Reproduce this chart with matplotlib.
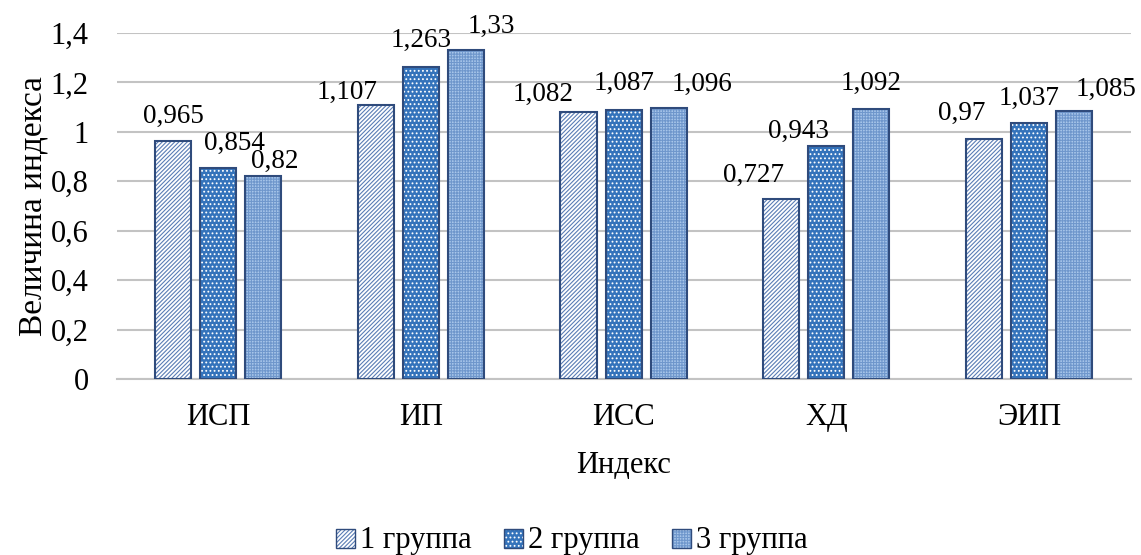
import matplotlib.pyplot as plt
import numpy as np
from matplotlib.legend_handler import HandlerBase

# Index values by group
categories = ['ИСП', 'ИП', 'ИСС', 'ХД', 'ЭИП']
group1 = [0.965, 1.107, 1.082, 0.727, 0.97]
group2 = [0.854, 1.263, 1.087, 0.943, 1.037]
group3 = [0.82, 1.33, 1.096, 1.092, 1.085]
series_names = ['1 группа', '2 группа', '3 группа']

# label nudges in pixels (horizontal shift, height of baseline above the bar)
label_dx = [[0, -29, -35, -28, -22],
            [16, 0, 0, -28, 0],
            [12, 26, 33, 0, 32]]
label_gap = [[18, 7, 11, 17, 19],
             [18, 20, 20, 8, 18],
             [8, 17, 17, 19, 15]]

plt.rcParams['font.family'] = ['Liberation Serif', 'DejaVu Serif']
plt.rcParams['hatch.linewidth'] = 0.8

fig = plt.figure(figsize=(11.41, 5.55), dpi=100)
ax = fig.add_axes([0.1022, 0.3171, 0.8886, 0.6234])

x = np.arange(len(categories))
width = 0.178
step = 0.222
edge = '#2f4b7c'

# face colour, hatch colour, hatch pattern per group
styles = [
    ('white', '#5a7db5', '////////'),
    ('#3473bb', 'white', '....'),
    ('#a8c6ea', '#6f97cc', '++++++'),
]

px = 72 / fig.dpi
for i, vals in enumerate([group1, group2, group3]):
    face, hcol, hatch = styles[i]
    pos = x + (i - 1) * step
    # hatch takes the edge colour, so the outline is drawn as a second bar
    ax.bar(pos, vals, width, color=face, edgecolor=hcol, hatch=hatch, linewidth=0, zorder=2)
    ax.bar(pos, vals, width, fill=False, edgecolor=edge, linewidth=1.5, zorder=3)
    for j, (p, v) in enumerate(zip(pos, vals)):
        ax.annotate(str(v).replace('.', ','), xy=(p, v),
                    xytext=(label_dx[i][j] * px, label_gap[i][j] * px),
                    textcoords='offset points', ha='center', va='baseline', fontsize=19.5)

yt = np.arange(0, 1.41, 0.2)
ax.set_xlim(-0.5, len(categories) - 0.5)
ax.set_ylim(0, 1.4)
ax.set_yticks(yt)
ax.set_yticklabels([f'{t:.1f}'.rstrip('0').rstrip('.').replace('.', ',') for t in yt])
ax.set_xticks(x)
ax.set_xticklabels(categories)
ax.tick_params(axis='both', labelsize=22, length=0)
ax.tick_params(axis='x', pad=17)
ax.tick_params(axis='y', pad=20)
ax.yaxis.grid(True, color='#c3c3c3', linewidth=1.5, zorder=0)
ax.set_axisbelow(True)
for s in ['top', 'right', 'left']:
    ax.spines[s].set_visible(False)
ax.spines['bottom'].set_color('#c3c3c3')
ax.spines['bottom'].set_linewidth(1.5)

ax.set_ylabel('Величина индекса', fontsize=24, labelpad=2)
ax.set_xlabel('Индекс', fontsize=22, labelpad=14)


class SwatchHandler(HandlerBase):
    def create_artists(self, legend, orig, xd, yd, w, h, fontsize, trans):
        size = h * 0.9
        x0 = xd + w - size
        y0 = yd + (h - size) / 2 - 1
        r1 = plt.Rectangle((x0, y0), size, size, facecolor=orig.get_facecolor(),
                           edgecolor=orig.get_edgecolor(), hatch=orig.get_hatch(),
                           linewidth=0, transform=trans)
        r2 = plt.Rectangle((x0, y0), size, size, fill=False, edgecolor=edge,
                           linewidth=1.0, transform=trans)
        return [r1, r2]


leg_handles = [plt.Rectangle((0, 0), 1, 1, facecolor=f, edgecolor=hc, hatch=ht, linewidth=0)
               for f, hc, ht in styles]
fig.legend(leg_handles, series_names, loc='center', bbox_to_anchor=(0.5, 0.027),
           ncol=3, frameon=False, fontsize=22, handler_map={plt.Rectangle: SwatchHandler()},
           handlelength=0.7, handletextpad=0.15, columnspacing=1.0)

fig.savefig('out.png', dpi=100)
